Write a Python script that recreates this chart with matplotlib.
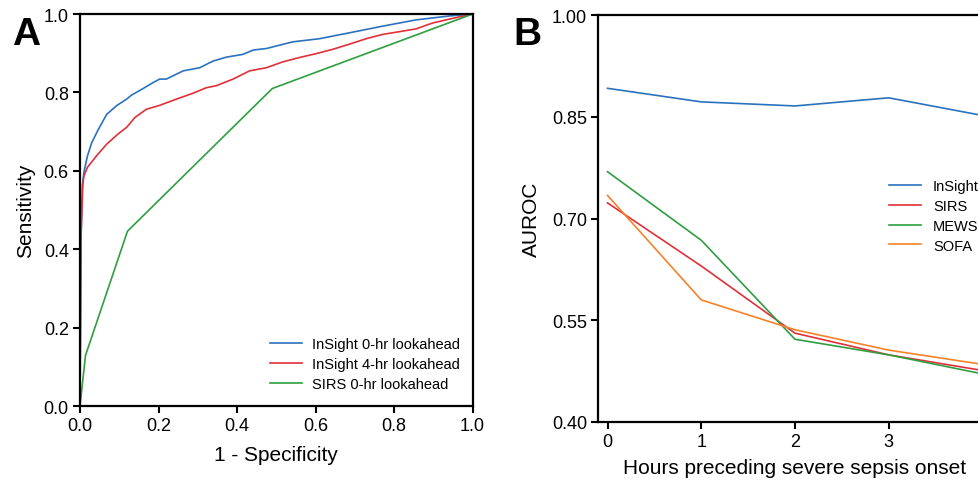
import matplotlib
matplotlib.use('Agg')
import matplotlib.pyplot as plt

plt.rcParams['font.family'] = ['Liberation Sans', 'DejaVu Sans']

# panel A: ROC curves
fpr_0hr = [0, 0.002, 0.006, 0.01, 0.019, 0.03, 0.047, 0.068, 0.093, 0.119, 0.131, 0.161, 0.186,
           0.203, 0.22, 0.263, 0.305, 0.339, 0.373, 0.415, 0.441, 0.475, 0.542, 0.61, 0.686,
           0.771, 0.856, 0.941, 1.0]
tpr_0hr = [0, 0.40, 0.562, 0.596, 0.638, 0.672, 0.706, 0.744, 0.766, 0.783, 0.793, 0.81, 0.825,
           0.834, 0.834, 0.855, 0.863, 0.88, 0.89, 0.897, 0.908, 0.912, 0.929, 0.937, 0.952,
           0.969, 0.985, 0.995, 1.0]
fpr_4hr = [0, 0.003, 0.007, 0.01, 0.019, 0.042, 0.068, 0.097, 0.119, 0.14, 0.169, 0.203, 0.246,
           0.288, 0.322, 0.347, 0.39, 0.432, 0.475, 0.517, 0.559, 0.602, 0.644, 0.686, 0.729,
           0.771, 0.814, 0.856, 0.898, 0.941, 1.0]
tpr_4hr = [0, 0.443, 0.562, 0.587, 0.609, 0.638, 0.668, 0.694, 0.711, 0.736, 0.757, 0.767, 0.783,
           0.798, 0.812, 0.817, 0.834, 0.855, 0.863, 0.878, 0.889, 0.899, 0.91, 0.923, 0.937,
           0.948, 0.955, 0.962, 0.977, 0.987, 1.0]
fpr_sirs = [0, 0.014, 0.121, 0.49, 1.0]
tpr_sirs = [0, 0.129, 0.446, 0.81, 1.0]

# panel B: AUROC by hours before onset
hours = [0, 1, 2, 3, 4]
auroc_insight = [0.892, 0.872, 0.866, 0.878, 0.852]
auroc_sirs = [0.723, 0.630, 0.531, 0.499, 0.476]
auroc_mews = [0.769, 0.668, 0.522, 0.499, 0.471]
auroc_sofa = [0.734, 0.580, 0.536, 0.506, 0.485]

blue = '#2a72bd'
red = '#e0303a'
green = '#2e9e40'
orange = '#f7812a'

fig = plt.figure(figsize=(9.79, 4.81), dpi=100)

axA = fig.add_axes([0.0817, 0.1538, 0.401, 0.815])
axA.plot(fpr_0hr, tpr_0hr, color=blue, lw=1.2, label='InSight 0-hr lookahead')
axA.plot(fpr_4hr, tpr_4hr, color=red, lw=1.2, label='InSight 4-hr lookahead')
axA.plot(fpr_sirs, tpr_sirs, color=green, lw=1.2, label='SIRS 0-hr lookahead')
axA.set_xlim(0, 1)
axA.set_ylim(0, 1)
axA.set_xticks([0, 0.2, 0.4, 0.6, 0.8, 1.0])
axA.set_yticks([0, 0.2, 0.4, 0.6, 0.8, 1.0])
axA.set_xticklabels(['0.0', '0.2', '0.4', '0.6', '0.8', '1.0'])
axA.set_yticklabels(['0.0', '0.2', '0.4', '0.6', '0.8', '1.0'])
axA.set_xlabel('1 - Specificity', fontsize=15, labelpad=8)
axA.set_ylabel('Sensitivity', fontsize=15, labelpad=6)
axA.legend(loc='upper left', bbox_to_anchor=(0.4835, 0.176), frameon=False, fontsize=10.5,
           handlelength=2.2, handletextpad=0.7, borderpad=0, borderaxespad=0,
           labelspacing=0.41)

axB = fig.add_axes([0.611, 0.1206, 0.402, 0.846])
axB.plot(hours, auroc_insight, color=blue, lw=1.2, label='InSight')
axB.plot(hours, auroc_sirs, color=red, lw=1.2, label='SIRS')
axB.plot(hours, auroc_mews, color=green, lw=1.2, label='MEWS')
axB.plot(hours, auroc_sofa, color=orange, lw=1.2, label='SOFA')
axB.set_xlim(-0.1, 4.1)
axB.set_ylim(0.40, 1.00)
axB.set_xticks(hours)
axB.set_yticks([0.40, 0.55, 0.70, 0.85, 1.00])
axB.set_yticklabels(['0.40', '0.55', '0.70', '0.85', '1.00'])
axB.set_xlabel('Hours preceding severe sepsis onset', fontsize=15, labelpad=6)
axB.set_ylabel('AUROC', fontsize=15, labelpad=8)
axB.legend(loc='upper left', bbox_to_anchor=(0.7395, 0.598), frameon=False, fontsize=10.5,
           handlelength=2.2, handletextpad=0.8, borderpad=0, borderaxespad=0,
           labelspacing=0.41)

for ax in (axA, axB):
    for s in ax.spines.values():
        s.set_linewidth(1.6)
    ax.tick_params(direction='out', length=5, width=1.5, labelsize=13, pad=3)

fig.text(0.012, 0.965, 'A', fontsize=28, fontweight='bold', va='top')
fig.text(0.524, 0.965, 'B', fontsize=28, fontweight='bold', va='top')

fig.savefig('out.png', dpi=100)
